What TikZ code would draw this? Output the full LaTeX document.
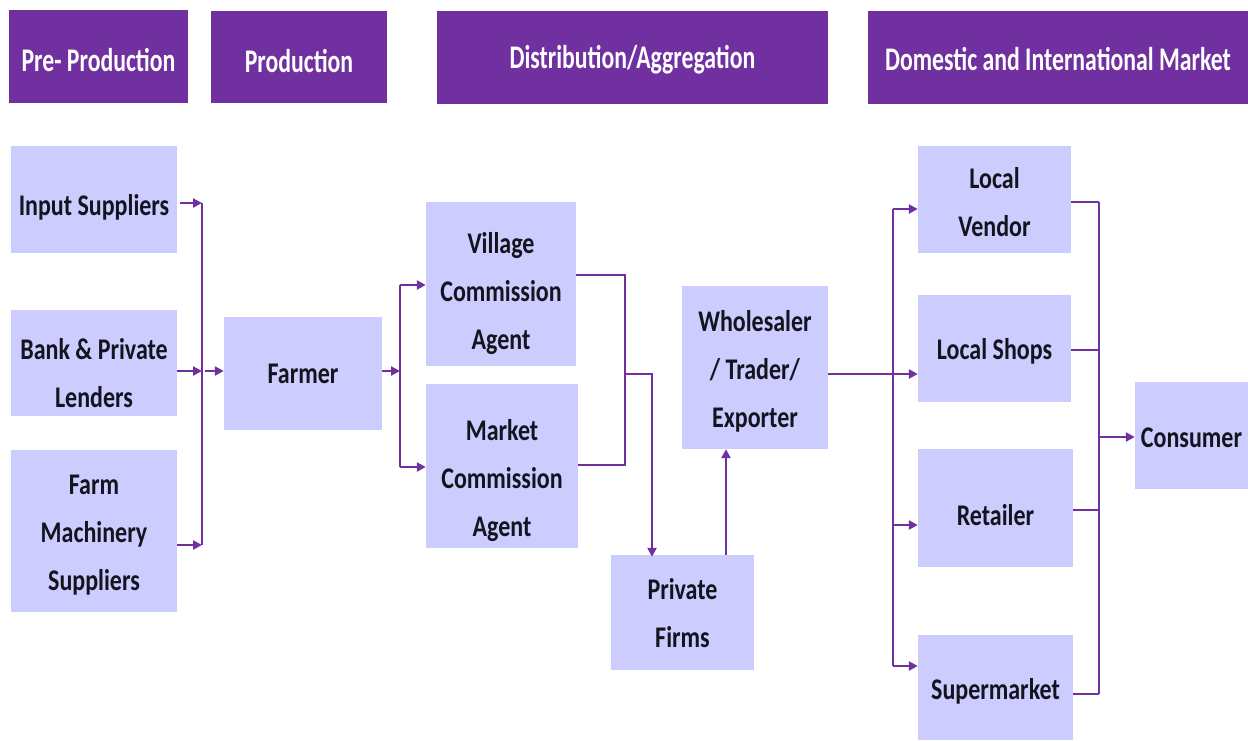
\documentclass[tikz,border=0pt]{standalone}
\usepackage{fontspec}
\usetikzlibrary{arrows.meta}
\newfontfamily\bodyfont{Carlito}[FakeStretch=0.8]
\newfontfamily\headfont{Carlito}[FakeStretch=0.72]
\definecolor{chainpurple}{HTML}{7030A0}
\definecolor{chainlav}{HTML}{CCCCFF}
\definecolor{chaintext}{HTML}{14141E}
% invisible strut of a given height: a taller first line sits lower in its box
\newcommand\lift[1]{\rule{0pt}{#1pt}}
\tikzset{
  stage/.style={fill=chainpurple, draw=none, inner sep=0pt, text=white,
    font={\headfont\bfseries\fontsize{33}{40}\selectfont}},
  actor/.style={fill=chainlav, draw=none, inner sep=0pt, align=center, text=chaintext,
    font={\bodyfont\bfseries\fontsize{30}{48}\selectfont}},
  link/.style={draw=chainpurple, line width=2.8pt},
  arr/.style={link, -{Triangle[length=9pt,width=9pt]}},
}
\begin{document}
\begin{tikzpicture}[x=1pt, y=-1pt]
\useasboundingbox (0,0) rectangle (1248,740);

% stage headers
\node[stage, minimum width=179, minimum height=93] (hpre)  at (98.5,56.5) {\lift{31}Pre- Production};
\node[stage, minimum width=176, minimum height=92] (hprod) at (299,57)   {\lift{31}Production};
\node[stage, minimum width=391, minimum height=93] (hdist) at (632.5,57.5) {\lift{27}Distribution/Aggregation};
\node[stage, minimum width=380, minimum height=93] (hmkt)  at (1058,57.5) {\lift{26}Domestic and International Market};

% actors
\node[actor, minimum width=166, minimum height=107] (input)  at (94,199.5) {\lift{37}Input Suppliers};
\node[actor, minimum width=166, minimum height=106] (bank)   at (94,363)   {\lift{41}Bank \& Private\\Lenders};
\node[actor, minimum width=166, minimum height=162] (farm)   at (94,531)   {\lift{27}Farm\\Machinery\\Suppliers};
\node[actor, minimum width=158, minimum height=113] (farmer) at (303,373.5) {Farmer};
\node[actor, minimum width=150, minimum height=164] (village) at (501,284) {\lift{41}Village\\Commission\\Agent};
\node[actor, minimum width=152, minimum height=164] (market)  at (502,466) {\lift{51}Market\\Commission\\Agent};
\node[actor, minimum width=146, minimum height=163] (whole)   at (755,367.5) {\lift{29}Wholesaler\\/ Trader/\\Exporter};
\node[actor, minimum width=143, minimum height=115] (firms)   at (682.5,612.5) {\lift{23}Private\\Firms};
\node[actor, minimum width=153, minimum height=107] (vendor)  at (994.5,199.5) {\lift{27}Local\\Vendor};
\node[actor, minimum width=153, minimum height=107] (shops)   at (994.5,348.5) {\lift{27}Local Shops};
\node[actor, minimum width=155, minimum height=118] (retail)  at (995.5,508) {\lift{35}Retailer};
\node[actor, minimum width=155, minimum height=105] (super)   at (995.5,687.5) {\lift{29}Supermarket};
\node[actor, minimum width=113, minimum height=107] (consumer) at (1191.5,435.5) {\lift{25}Consumer};

% junction points
\coordinate (jIn)    at (202,203);
\coordinate (jBank)  at (202,371);
\coordinate (jFarm)  at (202,545);
\coordinate (jFarmer) at (400,371);
\coordinate (jVil)   at (400,285);
\coordinate (jMkt)   at (400,467);
\coordinate (mVil)   at (625,275);
\coordinate (mMkt)   at (625,465);
\coordinate (mMid)   at (625,374);
\coordinate (mTurn)  at (652,374);
\coordinate (wOut)   at (893,374);
\coordinate (wTop)   at (893,209);
\coordinate (wRet)   at (893,525);
\coordinate (wSup)   at (893,666);
\coordinate (cVen)   at (1099,202);
\coordinate (cShop)  at (1099,350);
\coordinate (cRet)   at (1099,510);
\coordinate (cSup)   at (1099,694);
\coordinate (cOut)   at (1099,437);

% pre-production to farmer
\draw[arr] ([xshift=3pt]input.east |- jIn) -- (jIn);
\draw[arr] (bank.east |- jBank) -- (jBank);
\draw[arr] (farm.east |- jFarm) -- (jFarm);
\draw[link] (jIn) -- (jFarm);
\draw[arr] ([xshift=3pt]jBank) -- (farmer.west |- jBank);

% farmer to commission agents
\draw[arr] (farmer.east |- jFarmer) -- (jFarmer);
\draw[link] (jVil) -- (jMkt);
\draw[arr] (jVil) -- (village.west |- jVil);
\draw[arr] (jMkt) -- (market.west |- jMkt);

% commission agents to private firms and wholesaler
\draw[link] (village.east |- mVil) -- (mVil) -- (mMkt) -- (market.east |- mMkt);
\draw[arr] (mMid) -- (mTurn) -- ([yshift=-2pt]firms.north -| mTurn);
\draw[arr] (firms.north -| 726,0) -- (whole.south -| 726,0);

% wholesaler to market outlets
\draw[arr] (whole.east |- wOut) -- (shops.west |- wOut);
\draw[link] (wTop) -- (wSup);
\draw[arr] (wTop) -- (vendor.west |- wTop);
\draw[arr] (wRet) -- (retail.west |- wRet);
\draw[arr] (wSup) -- (super.west |- wSup);

% market outlets to consumer
\draw[link] (vendor.east |- cVen) -- (cVen);
\draw[link] (shops.east |- cShop) -- (cShop);
\draw[link] (retail.east |- cRet) -- (cRet);
\draw[link] (super.east |- cSup) -- (cSup);
\draw[link] (cVen) -- (cSup);
\draw[arr] (cOut) -- (consumer.west |- cOut);
\end{tikzpicture}
\end{document}
